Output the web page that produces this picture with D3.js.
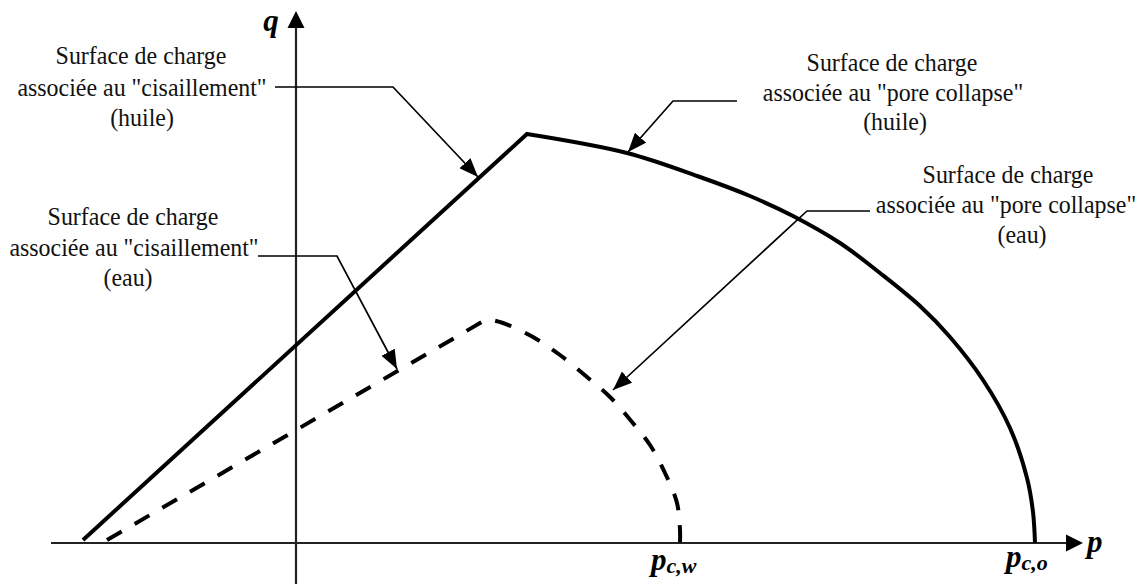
<!DOCTYPE html>
<html><head><meta charset="utf-8">
<script src="https://cdn.jsdelivr.net/npm/d3@7"></script>
<style>html,body{margin:0;padding:0;background:#fff;}svg{display:block}</style>
</head><body>
<script>
// ---- data (p, q in arbitrary stress units) ----
const oilShear   = [[-2.13,0.03],[2.31,4.09]];
const oilCap     = [[2.31,4.09],[3.31,3.90],[4.04,3.66],[4.54,3.47],[4.97,3.27],[5.44,3.00],[5.84,2.70],[6.24,2.37],[6.54,2.06],[6.87,1.63],[7.14,1.15],[7.31,0.65],[7.37,0.31],[7.39,0]];
const waterShear = [[-1.89,0.03],[1.91,2.24]];
const waterCap   = [[1.91,2.24],[2.07,2.20],[2.37,2.06],[2.64,1.88],[2.91,1.66],[3.14,1.46],[3.36,1.21],[3.54,0.98],[3.69,0.70],[3.81,0.40],[3.84,0.13],[3.84,0]];
const pDomain = [-2.45, 7.87];
const qDomain = [-0.41, 5.32];
const pcValues = [3.84, 7.39];
const pcSubs   = ["c,w", "c,o"];
const axisNames = ["p", "q"];
// leader lines (label end -> arrow tip), in p,q units
const leaderShearOil   = [[-0.21,4.56],[0.97,4.56],[1.82,3.66]];
const leaderCapOil     = [[4.41,4.42],[3.77,4.42],[3.32,3.91]];
const leaderShearWater = [[-0.38,2.87],[0.41,2.87],[1.01,1.74]];
const leaderCapWater   = [[5.74,3.32],[5.11,3.32],[3.17,1.53]];
const textShearOil   = ["Surface de charge", "associée au \"cisaillement\"", "(huile)"];
const textShearWater = ["Surface de charge", "associée au \"cisaillement\"", "(eau)"];
const textCapOil     = ["Surface de charge", "associée au \"pore collapse\"", "(huile)"];
const textCapWater   = ["Surface de charge", "associée au \"pore collapse\"", "(eau)"];

// ---- drawing ----
const W = 1147, H = 588;
const svg = d3.select("body").append("svg").attr("width", W).attr("height", H);
const x = d3.scaleLinear().domain(pDomain).range([51, 1083]);
const y = d3.scaleLinear().domain(qDomain).range([584, 11]);

const defs = svg.append("defs");
defs.append("marker").attr("id","arr").attr("markerUnits","userSpaceOnUse")
  .attr("viewBox","0 0 19 15").attr("markerWidth",19).attr("markerHeight",15)
  .attr("refX",19).attr("refY",7.5).attr("orient","auto")
  .append("path").attr("d","M0,0 L19,7.5 L0,15 Z").attr("fill","#000");

const lin = d3.line().x(d=>x(d[0])).y(d=>y(d[1]));
const smooth = d3.line().x(d=>x(d[0])).y(d=>y(d[1])).curve(d3.curveCatmullRom.alpha(0.5));
function surface(shear, cap){
  return lin(shear) + smooth(cap).replace(/^M/, "L");
}

// axes
const axisColor = "#222";
svg.append("line").attr("x1", x(pDomain[0])).attr("x2", x(pDomain[1]) - 14)
  .attr("y1", y(0)).attr("y2", y(0)).attr("stroke", axisColor).attr("stroke-width", 2.2);
svg.append("path").attr("d", `M${x(pDomain[1])},${y(0)} L${x(pDomain[1])-17},${y(0)-8.5} L${x(pDomain[1])-17},${y(0)+8.5} Z`).attr("fill","#000");
svg.append("line").attr("x1", x(0)).attr("x2", x(0))
  .attr("y1", y(qDomain[0])).attr("y2", y(qDomain[1]) + 14).attr("stroke", axisColor).attr("stroke-width", 2.2);
svg.append("path").attr("d", `M${x(0)},${y(qDomain[1])} L${x(0)-8.5},${y(qDomain[1])+17} L${x(0)+8.5},${y(qDomain[1])+17} Z`).attr("fill","#000");

// surfaces
svg.append("path").attr("d", surface(oilShear, oilCap)).attr("fill","none")
  .attr("stroke","#000").attr("stroke-width",4).attr("stroke-linejoin","miter");
svg.append("path").attr("d", surface(waterShear, waterCap)).attr("fill","none")
  .attr("stroke","#000").attr("stroke-width",4).attr("stroke-dasharray","17,15");

// leaders
[leaderShearOil, leaderCapOil, leaderShearWater, leaderCapWater].forEach(L=>{
  svg.append("path").attr("d", lin(L)).attr("fill","none").attr("stroke","#000")
    .attr("stroke-width",1.7).attr("marker-end","url(#arr)");
});

// text blocks
const serif = "'Liberation Serif','Times New Roman',serif";
function block(lines, xs, ys){
  lines.forEach((t,i)=>{
    svg.append("text").attr("transform", `translate(${xs[i]},${ys[i]}) scale(0.92,1)`)
      .attr("text-anchor","middle")
      .attr("font-family", serif).attr("font-size", 26).attr("fill","#111").text(t);
  });
}
block(textShearOil,   [141,142,142], [64,96,126]);
block(textShearWater, [133,134,128], [225,256,286]);
block(textCapOil,     [892,893,895], [71,101,130]);
block(textCapWater,   [1008,1006,1022], [183,213,243]);

// axis names
svg.append("text").attr("x", x(0) - 25).attr("y", 31).attr("text-anchor","middle")
  .attr("font-family", serif).attr("font-size", 31).attr("font-weight","bold").attr("font-style","italic")
  .text(axisNames[1]);
svg.append("text").attr("x", x(pDomain[1]) + 4).attr("y", 552)
  .attr("font-family", serif).attr("font-size", 31).attr("font-weight","bold").attr("font-style","italic")
  .text(axisNames[0]);

// pc labels
pcValues.forEach((v,i)=>{
  const t = svg.append("text").attr("x", x(v) - 29).attr("y", i===0 ? 570 : 567)
    .attr("font-family", serif).attr("font-weight","bold").attr("font-style","italic");
  t.append("tspan").attr("font-size", 31).text(axisNames[0]);
  t.append("tspan").attr("font-size", 22).attr("dy", 3).text(pcSubs[i]);
});
</script>
</body></html>
